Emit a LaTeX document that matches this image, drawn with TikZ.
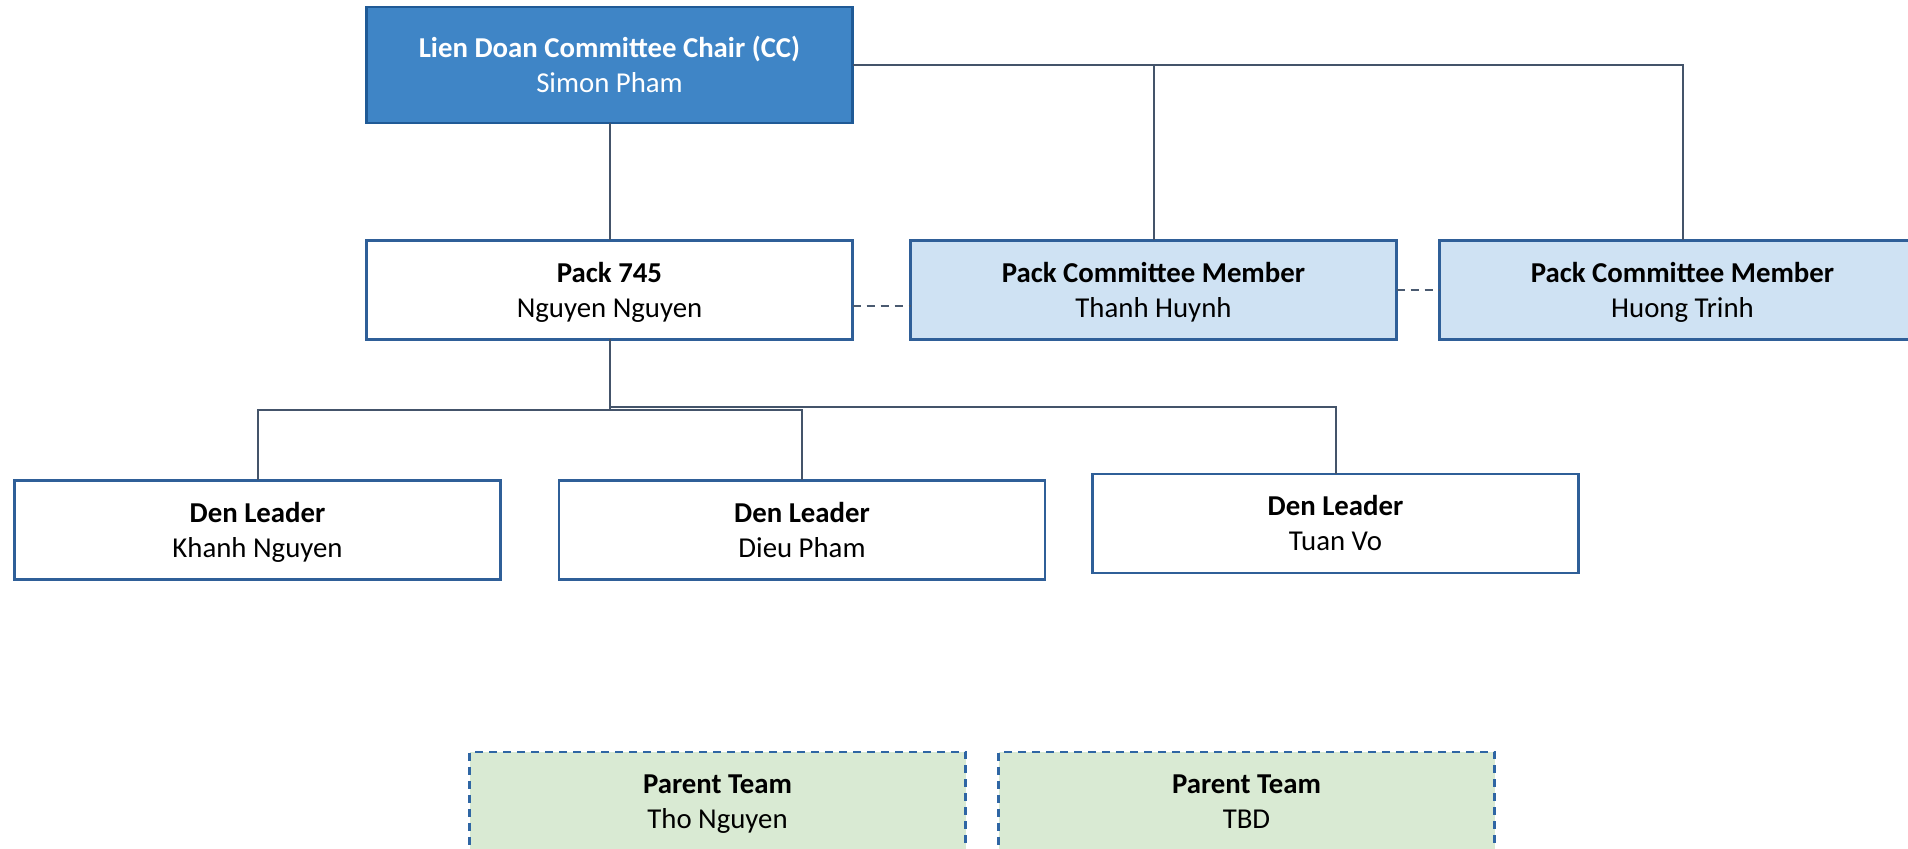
\documentclass[tikz,border=0pt]{standalone}
\usepackage{fontspec}
\setmainfont{Carlito}
\usepackage{xcolor}
\usepackage{tikz}
\usetikzlibrary{calc}

\definecolor{chairfill}{HTML}{3F85C6}
\definecolor{chairline}{HTML}{1F5A96}
\definecolor{boxline}{HTML}{2F5F98}
\definecolor{memberfill}{HTML}{CFE2F3}
\definecolor{parentfill}{HTML}{D9EAD3}
\definecolor{parentline}{HTML}{2F66A4}
\definecolor{linkgray}{HTML}{44546A}
\definecolor{dashgray}{HTML}{4A5A70}

% line strut, so all boxes place their two lines alike
\newcommand{\ls}{\rule[-3.75pt]{0pt}{17.5pt}}

\begin{document}
\begin{tikzpicture}[x=0.5pt, y=-0.5pt,
	box/.style={draw=boxline, line width=1.2pt, fill=white, minimum width=243pt, minimum height=49.5pt,
		inner sep=0pt, outer sep=0pt, align=center, font=\fontsize{14.4}{17.5}\selectfont},
	chair/.style={box, draw=chairline, fill=chairfill, text=white, minimum height=58pt},
	member/.style={box, fill=memberfill},
	parent/.style={box, draw=parentline, fill=parentfill, minimum width=248pt, dash pattern=on 4pt off 3pt},
	link/.style={draw=linkgray, line width=1pt},
	dashlink/.style={draw=dashgray, line width=1pt, dash pattern=on 4pt off 3pt}]

\clip (0,0) rectangle (1908,849);
\fill[white] (0,0) rectangle (1908,849);

% top rows
\node[chair] (cc) at (609.5,65) {\ls\textbf{Lien Doan Committee Chair (CC)}\\\ls Simon Pham};
\node[box] (pack) at (609.5,290) {\ls\textbf{Pack 745}\\\ls Nguyen Nguyen};
\node[member] (pcmA) at (1153.5,290) {\ls\textbf{Pack Committee Member}\\\ls Thanh Huynh};
\node[member] (pcmB) at (1682.5,290) {\ls\textbf{Pack Committee Member}\\\ls Huong Trinh};

% den leaders
\foreach \n/\x/\y/\who in {denA/257.5/530/Khanh Nguyen, denB/802/530/Dieu Pham, denC/1335.5/523.5/Tuan Vo}
{
	\node[box] (\n) at (\x,\y) {\ls\textbf{Den Leader}\\\ls\who};
}

% parent teams
\foreach \n/\x/\who in {ptA/717.5/Tho Nguyen, ptB/1246.5/TBD}
{
	\node[parent] (\n) at (\x,801.5) {\ls\textbf{Parent Team}\\\ls\who};
}

\coordinate (busA) at (609.5,410);
\coordinate (busC) at (609.5,407);

\draw[link] (cc.south) -- (pack.north);
\draw[link] (cc.east) -| (pcmB.north);
\draw[link] (pcmA.north) -- (pcmA.north |- cc.east);

\draw[link] (pack.south) -- (busA) -| (denA.north);
\draw[link] (busA) -| (denB.north);
\draw[link] (pack.south) -- (busC) -| (denC.north);

\draw[dashlink] ([yshift=-8pt]pack.east) -- ([yshift=-8pt]pcmA.west);
\draw[dashlink] (pcmA.east) -- (pcmB.west);

\end{tikzpicture}
\end{document}
